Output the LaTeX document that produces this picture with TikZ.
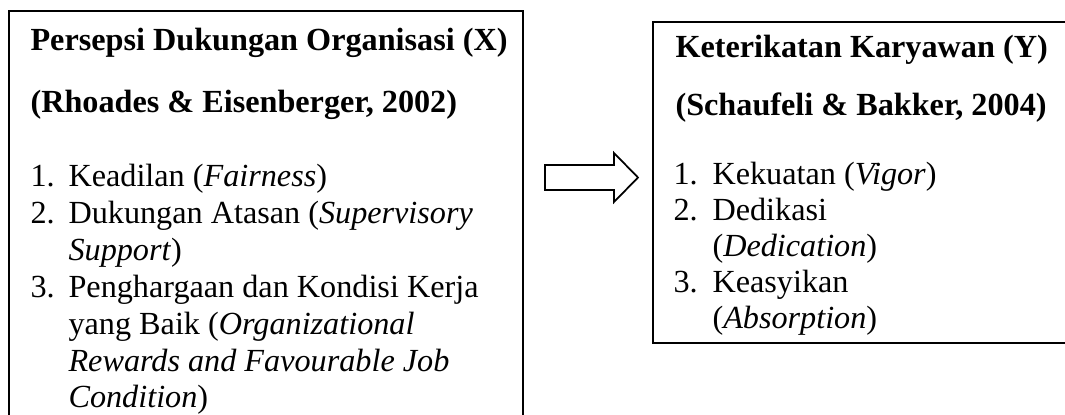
\documentclass[tikz,border=0pt]{standalone}
\usepackage{fontspec}
\setmainfont{Liberation Serif}
\usepackage{tikz}
\newlength{\pxunit}
\setlength{\pxunit}{0.3725pt}
\tikzset{
    tnode/.style = {inner sep=0pt, anchor=base west, font=\fontsize{12}{14}\selectfont},
    head_text/.style = {tnode, font=\fontsize{12}{14}\selectfont\bfseries},
    item_text/.style = {tnode},
    box_frame/.style = {rectangle, draw=black, line width=0.65pt, inner sep=0pt, anchor=north west}
}

\begin{document}
\begin{tikzpicture}[x=\pxunit, y={(0pt,-\pxunit)}]
    \useasboundingbox (0,0) rectangle (1065,414);

    % frames
    \node [box_frame, minimum width=514\pxunit, minimum height=420\pxunit] (org_box) at (8,10) {};
    \node [box_frame, minimum width=423\pxunit, minimum height=321\pxunit] (eng_box) at (652,21) {};

    % left box
    \node [head_text] (org_title) at (30,50) {Persepsi Dukungan Organisasi (X)};
    \node [head_text] (org_ref) at (30,112) {(Rhoades \& Eisenberger, 2002)};
    \node [item_text] (org_n1) at (30,186) {1.};
    \node [item_text] (org_i1) at (68,186) {Keadilan (\textit{Fairness})};
    \node [item_text] (org_n2) at (30,223) {2.};
    \node [item_text] (org_i2) at (68,223) {Dukungan Atasan (\textit{Supervisory}};
    \node [item_text] (org_i2b) at (68,260) {\textit{Support})};
    \node [item_text] (org_n3) at (30,297) {3.};
    \node [item_text] (org_i3) at (68,297) {Penghargaan dan Kondisi Kerja};
    \node [item_text] (org_i3b) at (68,334) {yang Baik (\textit{Organizational}};
    \node [item_text] (org_i3c) at (68,371) {\textit{Rewards and Favourable Job}};
    \node [item_text] (org_i3d) at (68,407) {\textit{Condition})};

    % right box
    \node [head_text] (eng_title) at (675,57) {Keterikatan Karyawan (Y)};
    \node [head_text] (eng_ref) at (675,115) {(Schaufeli \& Bakker, 2004)};
    \node [item_text] (eng_n1) at (673,184) {1.};
    \node [item_text] (eng_i1) at (712,184) {Kekuatan (\textit{Vigor})};
    \node [item_text] (eng_n2) at (673,220) {2.};
    \node [item_text] (eng_i2) at (712,220) {Dedikasi};
    \node [item_text] (eng_i2b) at (712,256) {(\textit{Dedication})};
    \node [item_text] (eng_n3) at (673,292) {3.};
    \node [item_text] (eng_i3) at (712,292) {Keasyikan};
    \node [item_text] (eng_i3b) at (712,328) {(\textit{Absorption})};

    % block arrow
    \coordinate (arrow_tail) at (545,177.5);
    \draw [line width=0.65pt, line join=miter]
        (arrow_tail) ++(0,-12.5) -- ++(69,0) -- ++(0,-12) -- ++(24,24.5)
        -- ++(-24,24.5) -- ++(0,-12) -- ++(-69,0) -- cycle;
\end{tikzpicture}
\end{document}
